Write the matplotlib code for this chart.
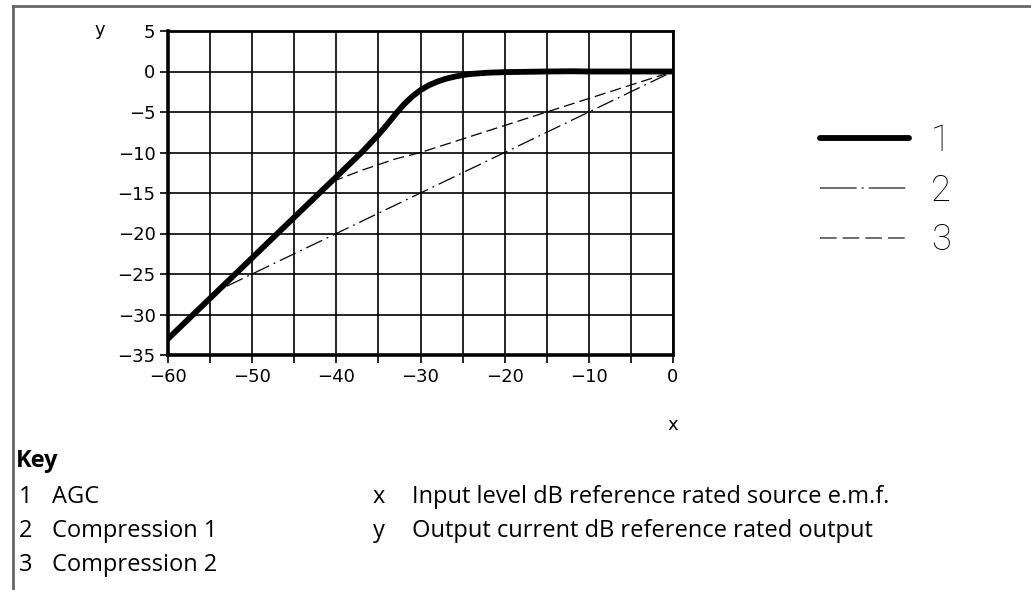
import matplotlib
matplotlib.use("Agg")
import matplotlib.pyplot as plt
from matplotlib.lines import Line2D

# data
agc_x = [-60, -50, -40, -37, -36, -35, -34, -33, -32, -31, -30, -29, -28, -27, -26, -25, -24, -22, -20, -15, -12, -10, 0]
agc_y = [-33, -23, -13, -10, -8.9, -7.8, -6.6, -5.3, -4.1, -3.1, -2.3, -1.7, -1.25, -0.9, -0.65, -0.45, -0.3, -0.15, -0.08, 0, 0.03, 0, 0]
comp1_x = [-53, 0]
comp1_y = [-26.5, 0]
comp2_x = [-40.5, -39, -37, -35, -33, -30, 0]
comp2_y = [-13.6, -13.0, -12.2, -11.5, -10.8, -10, 0]

x_ticks = list(range(-60, 1, 5))
x_labels = [str(v).replace("-", "\u2212") if v % 10 == 0 else "" for v in x_ticks]
y_ticks = list(range(-35, 6, 5))
y_labels = [str(v).replace("-", "\u2212") for v in y_ticks]

key_nums = ["1", "2", "3"]
key_names = ["AGC", "Compression 1", "Compression 2"]
axis_keys = ["x", "y"]
axis_desc = ["Input level dB reference rated source e.m.f.",
             "Output current dB reference rated output"]

tick_font = ["Liberation Sans Narrow", "DejaVu Sans"]
key_font = ["Open Sans", "DejaVu Sans"]

fig = plt.figure(figsize=(10.31, 5.90), dpi=100)
ax = fig.add_axes([168 / 1031, 1 - 355 / 590, 505 / 1031, 324 / 590])

ax.plot(agc_x, agc_y, color="black", lw=4.2, solid_capstyle="round", solid_joinstyle="round", zorder=5)
ax.plot(comp1_x, comp1_y, color="black", lw=0.9, dashes=(14, 4, 1.5, 4), zorder=4)
ax.plot(comp2_x, comp2_y, color="black", lw=0.9, dashes=(9, 4), zorder=4)

ax.set_xlim(-60, 0)
ax.set_ylim(-35, 5)
ax.set_xticks(x_ticks)
ax.set_xticklabels(x_labels)
ax.set_yticks(y_ticks)
ax.set_yticklabels(y_labels)
ax.grid(True, color="black", lw=1.2)
ax.tick_params(direction="out", length=6, width=1.2, pad=3, labelsize=13)
for lab in ax.get_xticklabels() + ax.get_yticklabels():
    lab.set_family(tick_font)
for s in ["left", "bottom"]:
    ax.spines[s].set_linewidth(2.6)
for s in ["top", "right"]:
    ax.spines[s].set_linewidth(2.0)

fig.text(100 / 1031, 1 - 30 / 590, "y", family=tick_font, fontsize=13, ha="center", va="center")
fig.text(673 / 1031, 1 - 425 / 590, "x", family=tick_font, fontsize=13, ha="center", va="center")

# legend on the right
h1 = Line2D([], [], color="black", lw=4.2, solid_capstyle="round")
h2 = Line2D([], [], color="#555555", lw=1.2, dashes=(22, 3, 1.2, 3))
h3 = Line2D([], [], color="#555555", lw=1.2, dashes=(10, 3.6))
fig.legend([h1, h2, h3], key_nums, loc="upper left",
           bbox_to_anchor=(802 / 1031, 1 - 105 / 590), frameon=False,
           prop={"family": ["Roboto", "DejaVu Sans"], "weight": "light", "size": 26},
           handlelength=2.47, handletextpad=0.6, labelspacing=0.38, borderpad=0)

# key block
fs = 17
fig.text(16 / 1031, 1 - 461 / 590, "Key", family=key_font, fontweight="bold", fontsize=fs, va="center")
for i, (n, name) in enumerate(zip(key_nums, key_names)):
    y = 1 - (497 + i * 34) / 590
    fig.text(19 / 1031, y, n, family=key_font, fontsize=fs, va="center")
    fig.text(52 / 1031, y, name, family=key_font, fontsize=fs, va="center")
for i, (k, d) in enumerate(zip(axis_keys, axis_desc)):
    y = 1 - (497 + i * 34) / 590
    fig.text(373 / 1031, y, k, family=key_font, fontsize=fs, va="center")
    fig.text(412 / 1031, y, d, family=key_font, fontsize=fs, va="center")

# outer frame (top and left only)
fig.add_artist(Line2D([13 / 1031, 1], [1 - 6 / 590, 1 - 6 / 590], transform=fig.transFigure, color="#666666", lw=2))
fig.add_artist(Line2D([13 / 1031, 13 / 1031], [1 - 6 / 590, 0], transform=fig.transFigure, color="#666666", lw=2))

fig.savefig("out.png", dpi=100)
